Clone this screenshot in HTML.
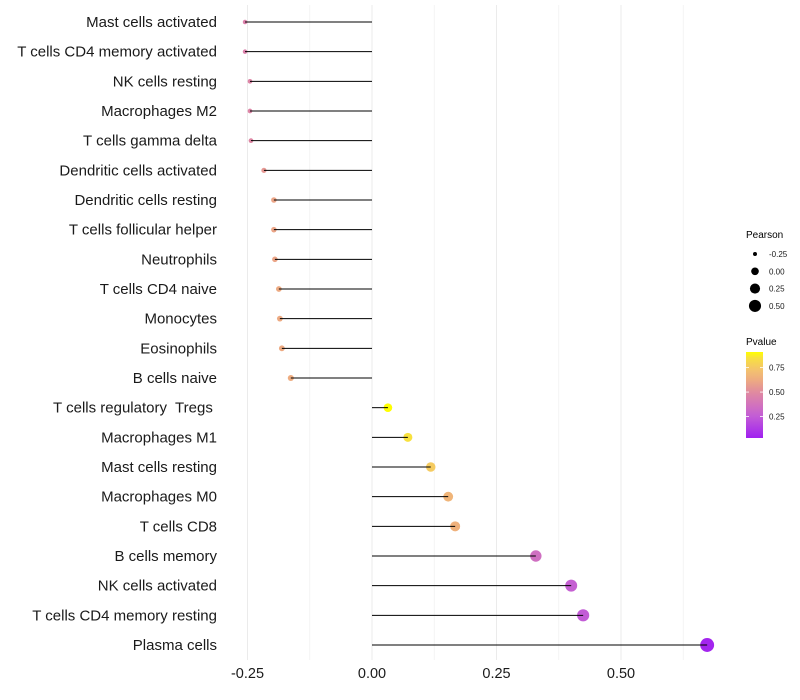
<!DOCTYPE html>
<html><head><meta charset="utf-8">
<style>
body{margin:0;background:#fff;}
svg{display:block;font-family:"Liberation Sans",sans-serif;}
</style></head>
<body>
<svg id="chart" width="800" height="700">
<defs>
<linearGradient id="pgrad" x1="0" y1="1" x2="0" y2="0">
<stop offset="0" stop-color="#A020F0"/>
<stop offset="0.25" stop-color="#C25CD6"/>
<stop offset="0.37" stop-color="#D070C0"/>
<stop offset="0.53" stop-color="#E08AA0"/>
<stop offset="0.67" stop-color="#EDAA82"/>
<stop offset="0.78" stop-color="#F3C070"/>
<stop offset="0.93" stop-color="#F8E040"/>
<stop offset="1" stop-color="#FFFF00"/>
</linearGradient>
</defs>
<g id="grid"></g>
<g id="dots"></g>
<g id="marks"></g>
<g id="ylabels"></g>
<g id="xlabels"></g>
<g id="sizeLegend">
<text x="746" y="238" font-size="10" fill="#000">Pearson</text>
</g>
<g>
<text x="746" y="345" font-size="10" fill="#000">Pvalue</text>
<rect x="746" y="352" width="17" height="86" fill="url(#pgrad)"/>
<g id="cbticks"></g>
</g>
</svg>
<script>
const categories=["Mast cells activated","T cells CD4 memory activated","NK cells resting","Macrophages M2","T cells gamma delta","Dendritic cells activated","Dendritic cells resting","T cells follicular helper","Neutrophils","T cells CD4 naive","Monocytes","Eosinophils","B cells naive","T cells regulatory  Tregs ","Macrophages M1","Mast cells resting","Macrophages M0","T cells CD8","B cells memory","NK cells activated","T cells CD4 memory resting","Plasma cells"];
const pearson=[-0.255,-0.255,-0.245,-0.245,-0.243,-0.217,-0.197,-0.197,-0.195,-0.187,-0.185,-0.181,-0.163,0.032,0.072,0.118,0.153,0.167,0.329,0.400,0.424,0.673];
const pvalue=[0.45,0.45,0.47,0.47,0.48,0.55,0.60,0.60,0.60,0.62,0.62,0.62,0.63,0.91,0.85,0.76,0.67,0.65,0.35,0.27,0.25,0.05];
const xTicks=[-0.25,0,0.25,0.5];
const xTickLabels=["-0.25","0.00","0.25","0.50"];
const minorTicks=[-0.125,0.125,0.375,0.625];
const sizeLegendValues=[-0.25,0,0.25,0.5];
const sizeLegendLabels=["-0.25","0.00","0.25","0.50"];
const pTicks=[0.25,0.5,0.75];
const pTickLabels=["0.25","0.50","0.75"];

const NS="http://www.w3.org/2000/svg";
function mk(tag,attrs,parent){const e=document.createElementNS(NS,tag);for(const k in attrs)e.setAttribute(k,attrs[k]);parent.appendChild(e);return e;}
const x=v=>372+v*498;
const y=i=>22+i*(623/21);
const r=v=>Math.sqrt(Math.max(2,5+(v+0.255)*47));
const pMin=0.03,pMax=0.91;
const stops=[[0,[160,32,240]],[0.25,[194,92,214]],[0.37,[208,112,192]],[0.53,[224,138,160]],[0.67,[237,170,130]],[0.78,[243,192,112]],[0.93,[248,224,64]],[1,[255,255,0]]];
function col(p){let t=(p-pMin)/(pMax-pMin);t=Math.max(0,Math.min(1,t));for(let i=1;i<stops.length;i++){if(t<=stops[i][0]){const a=stops[i-1],b=stops[i];const f=(t-a[0])/(b[0]-a[0]);const c=a[1].map((v,j)=>Math.round(v+(b[1][j]-v)*f));return `rgb(${c.join(",")})`;}}return "rgb(255,255,0)";}
const pY=p=>438-(p-pMin)/(pMax-pMin)*86;

const grid=document.getElementById('grid');
minorTicks.forEach(t=>{const l=mk('line',{x1:x(t),x2:x(t),y1:5,y2:660,stroke:'#f2f2f2','stroke-width':0.8},grid);

});
xTicks.forEach(t=>{const l=mk('line',{x1:x(t),x2:x(t),y1:5,y2:660,stroke:'#ebebeb','stroke-width':1},grid);

});

const marks=document.getElementById('marks');
const dots=document.getElementById('dots');
const yl=document.getElementById('ylabels');
categories.forEach((c,i)=>{
 const yy=y(i);
 const dot=mk('circle',{cx:x(pearson[i]),cy:yy,r:r(pearson[i]),fill:col(pvalue[i])},dots);
 
 
 const seg=mk('line',{x1:x(0),x2:x(pearson[i]),y1:yy,y2:yy,stroke:'#000','stroke-width':1},marks);
 
 
 const t=mk('text',{x:217,y:yy+5,'text-anchor':'end','font-size':15,fill:'#1a1a1a'},yl);
 t.textContent=c;
 
 
 t.style.whiteSpace='pre';
});
const xl=document.getElementById('xlabels');
xTicks.forEach((t,i)=>{const e=mk('text',{x:x(t),y:678,'text-anchor':'middle','font-size':14.5,fill:'#1a1a1a'},xl);
e.textContent=xTickLabels[i];

});

const sl=document.getElementById('sizeLegend');
sizeLegendValues.forEach((v,i)=>{const yy=254+i*17.3;
 const c=mk('circle',{cx:755,cy:yy,r:r(v)-0.3,fill:'#000'},sl);
 
 
 const t=mk('text',{x:769,y:yy+3,'font-size':8,fill:'#1a1a1a'},sl);
 t.textContent=sizeLegendLabels[i];
 
 });

const cb=document.getElementById('cbticks');
pTicks.forEach((p,i)=>{const yy=pY(p);
 mk('line',{x1:746,x2:749,y1:yy,y2:yy,stroke:'#fff','stroke-width':0.8},cb);
 mk('line',{x1:760,x2:763,y1:yy,y2:yy,stroke:'#fff','stroke-width':0.8},cb);
 const t=mk('text',{x:769,y:yy+3,'font-size':8,fill:'#1a1a1a'},cb);
 t.textContent=pTickLabels[i];
 
 });
</script>
</body></html>
